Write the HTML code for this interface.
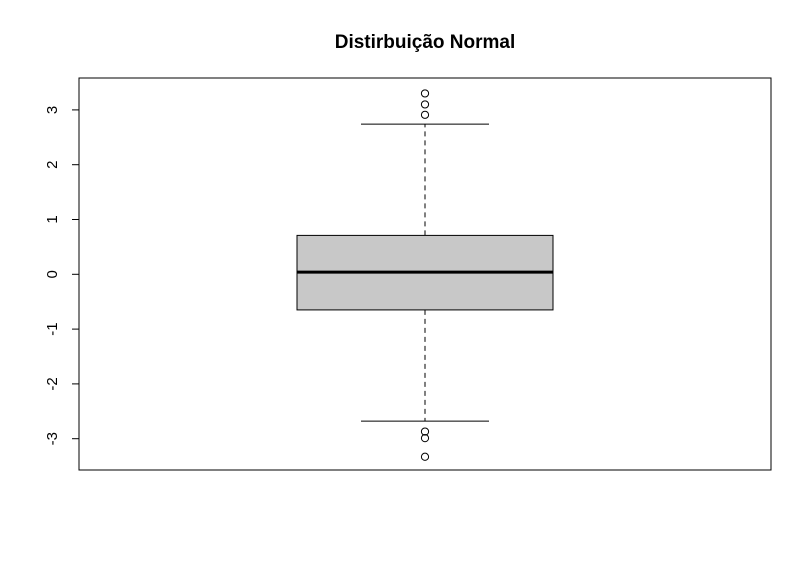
<!DOCTYPE html>
<html><head><meta charset="utf-8"><style>
html,body{margin:0;padding:0;background:#fff;}
svg{display:block;font-family:"Liberation Sans",Arial,sans-serif;}
</style></head><body>
<svg id="chart" width="812" height="569" viewBox="0 0 812 569">
<text x="425" y="48" text-anchor="middle" font-size="19" font-weight="bold">Distirbuição Normal</text>
<rect x="79" y="78" width="692" height="392" fill="none" stroke="#000" stroke-width="1"/>
<g id="yaxis"></g>
<g id="box"></g>
</svg>
<script>
const yTicks = [-3, -2, -1, 0, 1, 2, 3];
const stats = [-2.68, -0.65, 0.04, 0.71, 2.74]; // lower whisker, Q1, median, Q3, upper whisker
const outliers = [3.30, 3.10, 2.91, -2.87, -2.99, -3.33];

const NS = 'http://www.w3.org/2000/svg';
function y(v){ return 274.3 - v * 54.8; }
const cx = 425, boxL = 297, boxR = 553, capL = 361, capR = 489;
function mk(tag, attrs, parent){
  const e = document.createElementNS(NS, tag);
  for (const k in attrs) e.setAttribute(k, attrs[k]);
  parent.appendChild(e);
  return e;
}
const ya = document.getElementById('yaxis');
yTicks.forEach(t => {
  const tk = mk('line', {x1:72, x2:79, y1:y(t), y2:y(t), stroke:'#000'}, ya);
  
  
  const tx = mk('text', {x:0, y:0, 'font-size':15, 'text-anchor':'middle', transform:'translate(57,' + y(t) + ') rotate(-90)'}, ya);
  tx.textContent = String(t);
  
  
});
const b = document.getElementById('box');
const w1 = mk('line', {x1:cx, x2:cx, y1:y(stats[3]), y2:y(stats[4]), stroke:'#000', 'stroke-dasharray':'5,4'}, b);


const w2 = mk('line', {x1:cx, x2:cx, y1:y(stats[1]), y2:y(stats[0]), stroke:'#000', 'stroke-dasharray':'5,4'}, b);


const c1 = mk('line', {x1:capL, x2:capR, y1:y(stats[4]), y2:y(stats[4]), stroke:'#000'}, b);


const c2 = mk('line', {x1:capL, x2:capR, y1:y(stats[0]), y2:y(stats[0]), stroke:'#000'}, b);


const r = mk('rect', {x:boxL, y:y(stats[3]), width:boxR-boxL, height:y(stats[1])-y(stats[3]), fill:'#c8c8c8', stroke:'#000'}, b);


const m = mk('line', {x1:boxL, x2:boxR, y1:y(stats[2]), y2:y(stats[2]), stroke:'#000', 'stroke-width':3}, b);


outliers.forEach(o => {
  const c = mk('circle', {cx:cx, cy:y(o), r:3.6, fill:'none', stroke:'#000'}, b);
  
  
});
</script>
</body></html>
